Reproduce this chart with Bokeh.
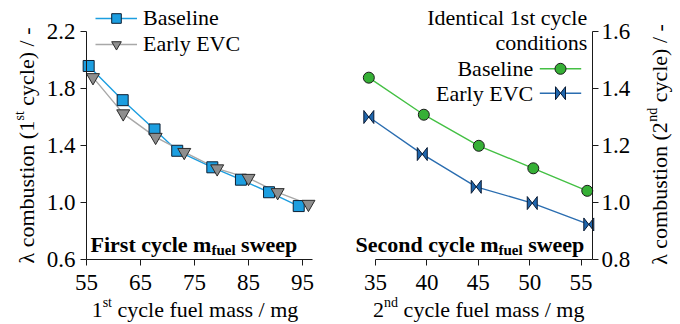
import math

from bokeh.embed import file_html
from bokeh.layouts import row
from bokeh.models import (FixedTicker, Label, Legend, LegendItem,
                          PrintfTickFormatter, Range1d)
from bokeh.plotting import figure
from bokeh.resources import INLINE

# ---- data ---------------------------------------------------------------
# first-cycle fuel mass sweep (mg) and resulting lambda
m1_base = [55.4, 61.7, 67.6, 71.8, 78.3, 83.6, 88.8, 94.3]
lam1_base = [1.958, 1.718, 1.513, 1.363, 1.247, 1.160, 1.072, 0.975]
m1_evc = [56.2, 61.8, 67.8, 73.1, 79.2, 85.0, 90.4, 96.1]
lam1_evc = [1.878, 1.624, 1.459, 1.353, 1.238, 1.171, 1.071, 0.989]

# second-cycle fuel mass sweep (mg) and resulting lambda
m2_base = [34.35, 39.7, 45.05, 50.35, 55.6]
lam2_base = [1.438, 1.308, 1.199, 1.120, 1.041]
m2_evc = [34.35, 39.55, 44.8, 50.25, 55.75]
lam2_evc = [1.300, 1.170, 1.055, 0.998, 0.923]

x1_ticks = [55, 65, 75, 85, 95]
y1_ticks = [0.6, 1.0, 1.4, 1.8, 2.2]
x2_ticks = [35, 40, 45, 50, 55]
y2_ticks = [0.8, 1.0, 1.2, 1.4, 1.6]

series_names = ["Baseline", "Early EVC"]

# ---- styling --------------------------------------------------------------
FONT = "Liberation Serif"
TXT = 22
SUP = 14
TICK = "23px"
INK = "#1a1a1a"
LIFT = 6  # pixels that label text sits below its nominal baseline

BLUE = "#1c9ee0"
BLUE_EDGE = "#0d1f33"
GREY_LINE = "#a8a8a8"
GREY_FILL = "#8e8e8e"
GREEN_LINE = "#44c044"
GREEN_FILL = "#36b036"
NAVY_LINE = "#2a6db0"
NAVY_FILL = "#1f66ad"

# each panel is a 340x324 canvas whose frame fills it; the axes are pinned
# at the data limits so the plot box sits at these pixel edges
W, H = 340, 324
BOX_TOP, BOX_BOTTOM = 31, 259
BOX1_LEFT, BOX1_RIGHT = 86, 312
BOX2_LEFT, BOX2_RIGHT = 35, 252

X1 = (55, 96.85)
Y1 = (0.6, 2.2)
X2 = (35, 56.11)
Y2 = (0.8, 1.6)

# Times-compatible advance widths (1/1000 em) used to lay out mixed-size text
REG_W = {' ': 250, '(': 333, ')': 333, '/': 278, '-': 333, '.': 250,
         'B': 667, 'C': 667, 'E': 611, 'I': 333, 'V': 722,
         'a': 444, 'b': 500, 'c': 444, 'd': 500, 'e': 444, 'f': 333, 'g': 500,
         'i': 278, 'l': 278, 'm': 778, 'n': 500, 'o': 500, 'r': 333, 's': 389,
         't': 278, 'u': 500, 'y': 500, 'λ': 500}
BOLD_W = {' ': 250, 'F': 611, 'S': 556, 'c': 444, 'd': 556, 'e': 444, 'f': 333,
          'i': 278, 'l': 278, 'm': 833, 'n': 556, 'o': 500, 'p': 556, 'r': 444,
          's': 389, 't': 333, 'u': 556, 'w': 722, 'y': 500}


def text_width(s, size, bold=False):
    table = BOLD_W if bold else REG_W
    return sum(table.get(ch, 500) for ch in s) / 1000.0 * size


def add_label(p, text, x, y, size, align="left", angle=0.0, bold=False):
    p.add_layout(Label(x=x, y=y, x_units="screen", y_units="screen",
                       text=text, angle=angle, text_font=FONT,
                       text_font_size=f"{size}px",
                       text_font_style="bold" if bold else "normal",
                       text_align=align, text_baseline="alphabetic",
                       text_color="black"))


def plain_text(p, text, x, y, align="left", size=TXT):
    """Single-size text; x, y are canvas pixels from the top-left corner."""
    add_label(p, text, x, H - y + LIFT, size, align=align)


def rich_text(p, pieces, x, y, align="left", angle=0.0, bold=False):
    """Lay out (text, size, baseline shift) pieces along the text direction.
    x, y are canvas pixels measured from the top-left corner."""
    y = H - y
    widths = [text_width(t, s, bold) for t, s, _ in pieces]
    total = sum(widths)
    pos = {"left": 0.0, "center": -total / 2.0, "right": -total}[align]
    for (t, s, shift), w in zip(pieces, widths):
        lead = len(t) - len(t.lstrip(' '))
        start = pos + text_width(t[:lead], s, bold)
        if angle == 0:
            lx, ly = x + start, y + shift + LIFT
        else:  # quarter turn counter-clockwise, text reads upwards
            lx, ly = x - shift - LIFT, y + start
        add_label(p, t.strip(' '), lx, ly, s, angle=angle, bold=bold)
        pos += w


def full_range(v0, v1, p0, p1, total):
    """Range covering the whole canvas so that v0 lands on pixel p0 and v1 on p1."""
    per_px = (v1 - v0) / (p1 - p0)
    start = v0 - p0 * per_px
    return Range1d(start, start + total * per_px), 1.0 / per_px


def make_fig(xspan, yspan, box_left, box_right, y_loc, xticks, yticks):
    xr, ppx = full_range(xspan[0], xspan[1], box_left, box_right, W)
    yr, ppy = full_range(yspan[0], yspan[1], H - BOX_BOTTOM, H - BOX_TOP, H)
    p = figure(width=W, height=H, x_range=xr, y_range=yr,
               y_axis_location=y_loc, output_backend="svg",
               toolbar_location=None, min_border=0)
    p.outline_line_color = None
    p.grid.visible = False
    p.background_fill_color = "white"
    p.border_fill_color = "white"

    p.xaxis.fixed_location = yspan[0]
    p.xaxis.bounds = xspan
    p.yaxis.fixed_location = xspan[0] if y_loc == "left" else xspan[1]
    p.yaxis.bounds = yspan
    p.xaxis.ticker = FixedTicker(ticks=xticks)
    p.yaxis.ticker = FixedTicker(ticks=yticks)
    p.xaxis.formatter = PrintfTickFormatter(format="%d")
    p.yaxis.formatter = PrintfTickFormatter(format="%.1f")
    for ax in p.axis:
        ax.axis_line_color = INK
        ax.axis_line_width = 1
        ax.major_tick_line_color = INK
        ax.major_tick_out = 6
        ax.major_tick_in = 0
        ax.minor_tick_line_color = None
        ax.major_label_text_font = FONT
        ax.major_label_text_font_size = TICK
        ax.major_label_text_color = "black"
    p.xaxis.major_label_standoff = 9
    p.yaxis.major_label_standoff = 5
    return p, ppx, ppy


# ---- left panel: first cycle sweep -----------------------------------------
p1, _, _ = make_fig(X1, Y1, BOX1_LEFT, BOX1_RIGHT, "left", x1_ticks, y1_ticks)

l1b = p1.line(m1_base, lam1_base, line_color=BLUE, line_width=1.4)
l1e = p1.line(m1_evc, lam1_evc, line_color=GREY_LINE, line_width=1.4)
s1b = p1.scatter(m1_base, lam1_base, marker="square", size=11,
                 fill_color=BLUE, line_color=BLUE_EDGE, line_width=1)
s1e = p1.scatter(m1_evc, lam1_evc, marker="inverted_triangle", size=13,
                 fill_color=GREY_FILL, line_color="#2b2b2b", line_width=1)

legend1 = Legend(items=[LegendItem(label=series_names[0], renderers=[l1b, s1b]),
                        LegendItem(label=series_names[1], renderers=[l1e, s1e])],
                 location=(95, H - 56.5), orientation="vertical",
                 glyph_width=42, glyph_height=24, label_height=24,
                 label_standoff=6, spacing=0, padding=0, margin=0,
                 border_line_color=None, background_fill_alpha=0,
                 label_text_font=FONT, label_text_font_size=f"{TXT}px",
                 label_text_color="black")
p1.add_layout(legend1)

rich_text(p1, [("1", TXT, 0), ("st", SUP, 7), (" cycle fuel mass / mg", TXT, 0)],
          194.5, 315, align="center")
rich_text(p1, [("λ combustion (1", TXT, 0), ("st", SUP, 7), (" cycle) / -", TXT, 0)],
          32, 145, align="center", angle=math.pi / 2)
rich_text(p1, [("First cycle m", 22, 0), ("fuel", 15, -5), (" sweep", 22, 0)],
          90, 250, bold=True)

# ---- right panel: second cycle sweep ----------------------------------------
p2, ppx2, ppy2 = make_fig(X2, Y2, BOX2_LEFT, BOX2_RIGHT, "right", x2_ticks, y2_ticks)
p2.yaxis.major_label_standoff = 3

p2.line(m2_base, lam2_base, line_color=GREEN_LINE, line_width=1.4)
p2.line(m2_evc, lam2_evc, line_color=NAVY_LINE, line_width=1.4)
p2.scatter(m2_base, lam2_base, marker="circle", size=11,
           fill_color=GREEN_FILL, line_color="#1a1a1a", line_width=1)

# bow-tie markers: half-width / half-height in pixels
BOW_DX, BOW_DY = 5.0, 6.5


def bowtie(xc, yc, hx, hy):
    return ([xc - hx, xc - hx, xc + hx, xc + hx],
            [yc + hy, yc - hy, yc + hy, yc - hy])


bx, by = zip(*[bowtie(x, y, BOW_DX / ppx2, BOW_DY / ppy2)
               for x, y in zip(m2_evc, lam2_evc)])
p2.patches(list(bx), list(by), fill_color=NAVY_FILL, line_color="#0a1a33",
           line_width=1)

# legend keys drawn in canvas pixel space (y measured upwards)
p2.extra_x_ranges = {"px": Range1d(0, W)}
p2.extra_y_ranges = {"px": Range1d(0, H)}
KEY_X0, KEY_X1, KEY_XC = 199.3, 240.7, 220
ROW1, ROW2 = H - 68.3, H - 92.7
p2.line([KEY_X0, KEY_X1], [ROW1, ROW1], line_color=GREEN_LINE, line_width=1.4,
        x_range_name="px", y_range_name="px")
p2.scatter([KEY_XC], [ROW1], marker="circle", size=11, fill_color=GREEN_FILL,
           line_color="#1a1a1a", line_width=1, x_range_name="px", y_range_name="px")
p2.line([KEY_X0, KEY_X1], [ROW2, ROW2], line_color=NAVY_LINE, line_width=1.4,
        x_range_name="px", y_range_name="px")
kx, ky = bowtie(KEY_XC, ROW2, BOW_DX, BOW_DY)
p2.patches([kx], [ky], fill_color=NAVY_FILL, line_color="#0a1a33", line_width=1,
           x_range_name="px", y_range_name="px")

plain_text(p2, "Identical 1st cycle", 246.7, 23, align="right")
plain_text(p2, "conditions", 246.7, 48.3, align="right")
plain_text(p2, series_names[0], 192.7, 74, align="right")
plain_text(p2, series_names[1], 192.7, 98.5, align="right")

rich_text(p2, [("2", TXT, 0), ("nd", SUP, 7), (" cycle fuel mass / mg", TXT, 0)],
          138.3, 315, align="center")
rich_text(p2, [("λ combustion (2", TXT, 0), ("nd", SUP, 7), (" cycle) / -", TXT, 0)],
          325, 144, align="center", angle=math.pi / 2)
rich_text(p2, [("Second cycle m", 22, 0), ("fuel", 15, -5), (" sweep", 22, 0)],
          15, 250, bold=True)

layout = row(p1, p2)
open("out.html", "w").write(file_html(layout, INLINE))
